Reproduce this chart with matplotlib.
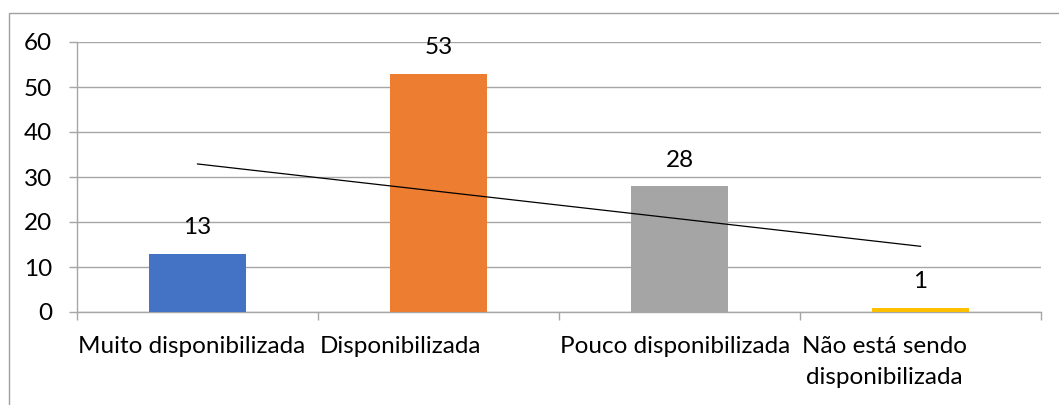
import numpy as np
import matplotlib as mpl
import matplotlib.pyplot as plt
from matplotlib.patches import Rectangle
import matplotlib.transforms as mtransforms

# Data
categories = ["Muito disponibilizada", "Disponibilizada",
              "Pouco disponibilizada", "Não está sendo\ndisponibilizada"]
values = [13, 53, 28, 1]
colors = ["#4472C4", "#ED7D31", "#A5A5A5", "#FFC000"]
y_ticks = [0, 10, 20, 30, 40, 50, 60]

GRID = "#A6A6A6"
W, H = 1059, 405
FS = 17.5

mpl.rcParams['font.family'] = ['Lato', 'DejaVu Sans']
mpl.rcParams['font.size'] = FS

fig = plt.figure(figsize=(W / 100, H / 100), dpi=100)
fig.patch.set_facecolor("white")

# Outer chart border (runs off the right and bottom edges)
fig.patches.append(Rectangle((8.5 / W, -0.2), 1.2, 1.2 - 12.5 / H,
                             transform=fig.transFigure, fill=False,
                             edgecolor="#A0A0A0", linewidth=1.0,
                             clip_on=False))

ax = fig.add_axes([77 / W, (H - 312) / H, 964 / W, 270 / H])

x = np.arange(len(values))
ax.bar(x, values, width=0.4, color=colors, zorder=3)

for xi, v in zip(x, values):
    ax.annotate("%d" % v, (xi, v), xytext=(0, 11), textcoords="offset points",
                ha="center", va="bottom", fontsize=FS, color="black")

# Linear trendline through the bar values
k, b = np.polyfit(x, values, 1)
ax.plot(x[[0, -1]], k * x[[0, -1]] + b, color="black", linewidth=0.9,
        zorder=4)

ax.set_xlim(-0.5, len(values) - 0.5)
ax.set_ylim(0, 60)
ax.set_yticks(y_ticks)
ax.yaxis.grid(True, color=GRID, linewidth=1.0, zorder=0)
ax.set_axisbelow(True)

# Category labels start at the left boundary of each category
edges = np.arange(len(values) + 1) - 0.5
ax.set_xticks(edges[:-1])
ax.set_xticklabels(categories, ha="left", multialignment="center",
                   linespacing=1.6)
ax.set_xticks(edges[-1:], minor=True)
ax.tick_params(axis="x", which="both", length=6, width=1.0, color=GRID,
               pad=11)
ax.tick_params(axis="y", length=6, width=1.0, color=GRID, pad=12)

for name in ["top", "right"]:
    ax.spines[name].set_visible(False)
for name in ["left", "bottom"]:
    ax.spines[name].set_color(GRID)
    ax.spines[name].set_linewidth(1.0)

shift = mtransforms.ScaledTranslation(1.5 / 100, 0, fig.dpi_scale_trans)
for lbl in ax.get_xticklabels():
    lbl.set_transform(lbl.get_transform() + shift)

fig.savefig("out.png", dpi=100)
